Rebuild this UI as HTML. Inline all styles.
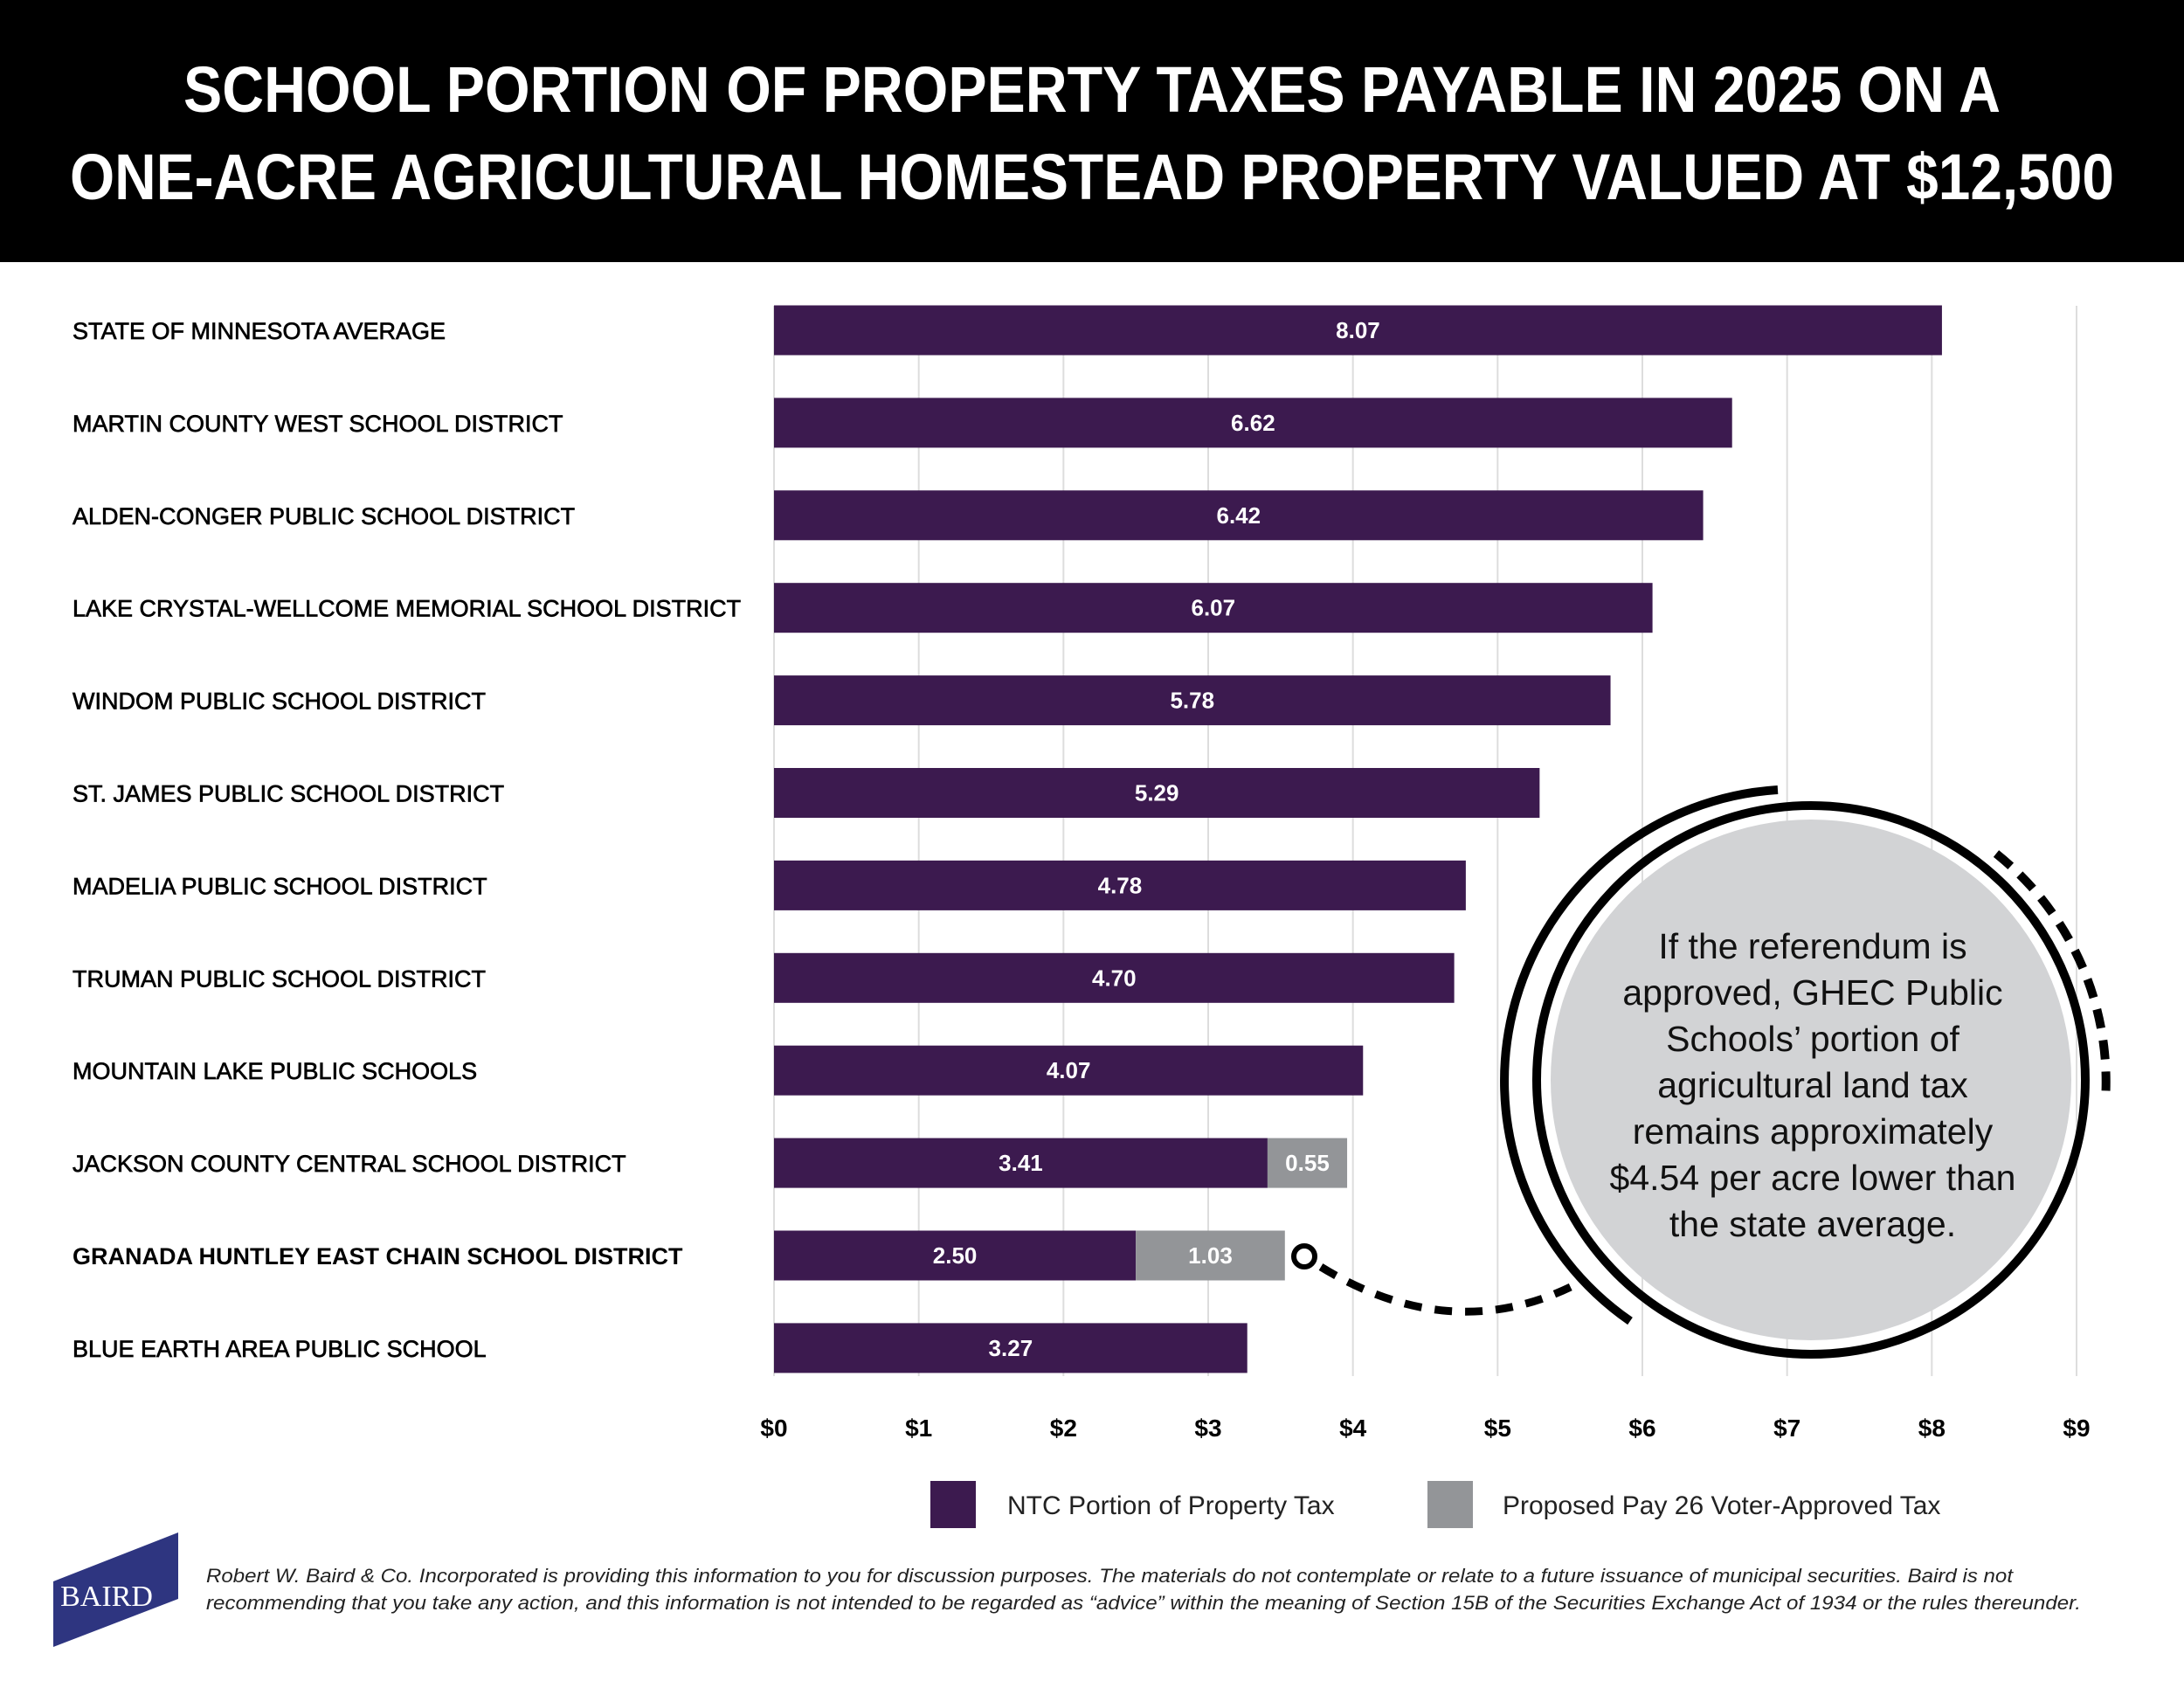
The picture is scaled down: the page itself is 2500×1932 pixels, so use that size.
<!DOCTYPE html>
<html><head><meta charset="utf-8"><style>
html,body{margin:0;padding:0;background:#fff}
svg{display:block}
text{font-family:"Liberation Sans",sans-serif}
</style></head><body>
<svg id="chart" width="2500" height="1932" viewBox="0 0 2500 1932" xmlns="http://www.w3.org/2000/svg">
<rect x="0" y="0" width="2500" height="300" fill="#000"/>
<text x="1250" y="128" text-anchor="middle" fill="#fff" font-size="74" font-weight="bold" textLength="2080" lengthAdjust="spacingAndGlyphs">SCHOOL PORTION OF PROPERTY TAXES PAYABLE IN 2025 ON A</text>
<text x="1250" y="228" text-anchor="middle" fill="#fff" font-size="74" font-weight="bold" textLength="2340" lengthAdjust="spacingAndGlyphs">ONE-ACRE AGRICULTURAL HOMESTEAD PROPERTY VALUED AT $12,500</text>
<g id="grid"></g>
<g id="bars"></g>
<g id="labels"></g>
<g id="ticks"></g>

<g>
<circle cx="2073" cy="1236" r="298" fill="#d2d3d5"/>
<circle cx="2073" cy="1236" r="314" fill="none" stroke="#000" stroke-width="10"/>
<path d="M 2035 904 A 334 334 0 0 0 1866 1512" fill="none" stroke="#000" stroke-width="10"/>
<path d="M 2285 977 A 334 334 0 0 1 2410 1260" fill="none" stroke="#000" stroke-width="10" stroke-dasharray="22 14"/>
<path d="M 1512 1450 Q 1660 1540 1800 1472" fill="none" stroke="#000" stroke-width="9" stroke-dasharray="20 15"/>
<circle cx="1493" cy="1438" r="12" fill="#fff" stroke="#000" stroke-width="6"/>
<g font-size="41" font-weight="500" fill="#111" text-anchor="middle">
<text x="2075" y="1097">If the referendum is</text>
<text x="2075" y="1150">approved, GHEC Public</text>
<text x="2075" y="1203">Schools’ portion of</text>
<text x="2075" y="1256">agricultural land tax</text>
<text x="2075" y="1309">remains approximately</text>
<text x="2075" y="1362">$4.54 per acre lower than</text>
<text x="2075" y="1415">the state average.</text>
</g>
</g>

<g>
<rect x="1065" y="1695" width="52" height="54" fill="#3c1a4f"/>
<text x="1153" y="1733" font-size="30" fill="#222">NTC Portion of Property Tax</text>
<rect x="1634" y="1695" width="52" height="54" fill="#939598"/>
<text x="1720" y="1733" font-size="30" fill="#222">Proposed Pay 26 Voter-Approved Tax</text>
</g>

<g>
<polygon points="61,1810 204,1754 204,1830 61,1885" fill="#2e3580"/>
<text x="122" y="1838" text-anchor="middle" fill="#fff" font-size="34" style="font-family:'Liberation Serif',serif">BAIRD</text>
</g>
<g font-size="22.5" font-style="italic" fill="#222">
<text x="236" y="1811" textLength="2068" lengthAdjust="spacingAndGlyphs">Robert W. Baird &amp; Co. Incorporated is providing this information to you for discussion purposes. The materials do not contemplate or relate to a future issuance of municipal securities. Baird is not</text>
<text x="236" y="1842" textLength="2146" lengthAdjust="spacingAndGlyphs">recommending that you take any action, and this information is not intended to be regarded as “advice” within the meaning of Section 15B of the Securities Exchange Act of 1934 or the rules thereunder.</text>
</g>
</svg>
<script>
const categories = ["STATE OF MINNESOTA AVERAGE","MARTIN COUNTY WEST SCHOOL DISTRICT","ALDEN-CONGER PUBLIC SCHOOL DISTRICT","LAKE CRYSTAL-WELLCOME MEMORIAL SCHOOL DISTRICT","WINDOM PUBLIC SCHOOL DISTRICT","ST. JAMES PUBLIC SCHOOL DISTRICT","MADELIA PUBLIC SCHOOL DISTRICT","TRUMAN PUBLIC SCHOOL DISTRICT","MOUNTAIN LAKE PUBLIC SCHOOLS","JACKSON COUNTY CENTRAL SCHOOL DISTRICT","GRANADA HUNTLEY EAST CHAIN SCHOOL DISTRICT","BLUE EARTH AREA PUBLIC SCHOOL"];
const ntcValues = [8.07,6.62,6.42,6.07,5.78,5.29,4.78,4.70,4.07,3.41,2.50,3.27];
const proposedValues = [0,0,0,0,0,0,0,0,0,0.55,1.03,0];
const tickValues = [0,1,2,3,4,5,6,7,8,9];
const tickLabels = ["$0","$1","$2","$3","$4","$5","$6","$7","$8","$9"];
const highlighted = "GRANADA HUNTLEY EAST CHAIN SCHOOL DISTRICT";

const NS = "http://www.w3.org/2000/svg";
const X0 = 886, X1 = 2377, XMAX = 9;
const x = v => X0 + (X1 - X0) * v / XMAX;
const ROW0 = 378, ROWSTEP = 105.9, BARH = 57;
const y = i => ROW0 + i * ROWSTEP;
function mk(tag, attrs, parent){const e=document.createElementNS(NS,tag);for(const k in attrs)e.setAttribute(k,attrs[k]);parent.appendChild(e);return e;}

const grid = document.getElementById('grid');
const ticks = document.getElementById('ticks');
tickValues.forEach((t,i)=>{
  const l = mk('line',{x1:x(t),x2:x(t),y1:350,y2:1575,stroke:'#dddddd','stroke-width':2},grid);
  
  
  const tx = mk('text',{x:x(t),y:1644,'text-anchor':'middle','font-size':28,'font-weight':'bold',fill:'#000'},ticks);
  tx.textContent = tickLabels[i];
  
  
});

const bars = document.getElementById('bars');
const labels = document.getElementById('labels');
categories.forEach((c,i)=>{
  const cy = y(i);
  const isHi = c===highlighted;
  const lb = mk('text',{x:83,y:cy+10,'font-size':27,'font-weight':isHi?'bold':'normal',fill:'#000',stroke:isHi?'none':'#000','stroke-width':0.7},labels);
  lb.textContent = c;
  
  
  const v = ntcValues[i];
  const b = mk('rect',{x:x(0),y:cy-BARH/2,width:x(v)-x(0),height:BARH,fill:'#3c1a4f'},bars);
  
  
  const bt = mk('text',{x:(x(0)+x(v))/2,y:cy+9,'text-anchor':'middle','font-size':26,'font-weight':'bold',fill:'#fff'},bars);
  bt.textContent = v.toFixed(2);
  
  
  const p = proposedValues[i];
  if(p>0){
    const g = mk('rect',{x:x(v),y:cy-BARH/2,width:x(v+p)-x(v),height:BARH,fill:'#939598'},bars);
    
    
    const gt = mk('text',{x:(x(v)+x(v+p))/2,y:cy+9,'text-anchor':'middle','font-size':26,'font-weight':'bold',fill:'#fff'},bars);
    gt.textContent = p.toFixed(2);
    
    
  }
});
</script>
</body></html>
